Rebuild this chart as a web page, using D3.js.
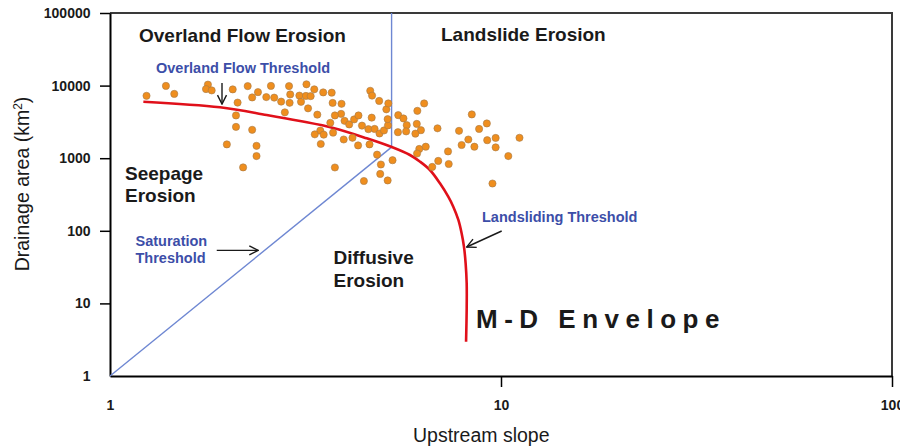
<!DOCTYPE html>
<html>
<head>
<meta charset="utf-8">
<script src="https://cdn.jsdelivr.net/npm/d3@7"></script>
<style>
body { margin: 0; background: #fff; }
text { font-family: Arial, "Liberation Sans", sans-serif; }
</style>
</head>
<body>
<div class="canvas"></div>
<script>
// channel heads: upstream slope vs drainage area (km2)
const pointSlope = [
    1.24, 1.39, 1.46, 1.78, 1.76, 1.82, 2.06, 2.25, 2.39, 2.31,
    2.12, 2.10, 2.10, 2.31, 1.99, 2.37, 2.37, 2.19, 2.51, 2.58,
    2.63, 2.74, 2.87, 2.89, 2.88, 2.80, 3.05, 3.08, 3.18, 3.17,
    3.26, 3.33, 3.21, 3.51, 3.69, 3.71, 3.39, 3.91, 3.90, 3.76,
    3.66, 3.98, 4.09, 4.21, 4.32, 4.41, 4.67, 4.58, 4.75, 4.89,
    5.02, 5.14, 5.13, 5.09, 5.15, 4.63, 4.68, 4.88, 3.45, 3.34,
    3.52, 3.72, 3.46, 3.96, 4.17, 4.31, 4.61, 3.76, 4.82, 4.93,
    4.91, 5.28, 5.13, 4.46, 5.46, 5.63, 5.74, 5.72, 5.45, 6.11,
    6.36, 6.09, 6.24, 6.04, 6.18, 6.10, 6.42, 6.88, 6.91, 6.67,
    7.32, 7.35, 7.81, 7.93, 8.25, 8.42, 8.79, 8.55, 9.20, 9.22,
    9.69, 9.69, 10.44, 11.15, 9.51
]
const pointArea = [
    7230, 9910, 7690, 10320, 8950, 8590, 8870, 9840, 8130, 6870,
    5830, 3880, 2700, 2460, 1550, 1480, 1070, 747, 6940, 9910,
    6830, 6020, 9840, 7560, 5790, 4280, 7280, 5980, 10420, 7210,
    7160, 8890, 4860, 8060, 8000, 5770, 3980, 5610, 4080, 3880,
    3070, 3270, 2920, 3420, 3880, 2810, 3620, 2510, 2530, 2190,
    2410, 2830, 3450, 4710, 5680, 8480, 7280, 6150, 2400, 2130,
    2110, 2250, 1570, 1810, 1910, 1500, 1550, 745, 1120, 819,
    607, 938, 494, 485, 3920, 3530, 2850, 2340, 2280, 4490,
    5680, 2970, 2430, 2180, 1340, 1160, 1440, 2580, 918, 759,
    1240, 832, 2380, 1520, 1810, 4010, 2530, 1440, 3010, 1770,
    1900, 1410, 1070, 1910, 448
]

// M-D envelope (red curve)
const envelopeSlope = [1.217, 1.911, 2.516, 3.062, 3.725, 4.535, 5.254, 5.85, 6.21, 6.58, 6.98, 7.33, 7.55, 7.78, 7.93, 8.04, 8.12, 8.17, 8.17, 8.14]
const envelopeArea = [6000, 5020, 3940, 3250, 2606, 1880, 1426, 1107, 895, 688, 451, 295, 215, 141, 92.4, 60.4, 35.7, 18.9, 8.11, 2.97]

// threshold lines (blue), meeting at the break point
const breakSlope = 5.25
const breakArea = 1420
const saturationSlope = [1, breakSlope]
const saturationArea = [1, breakArea]
const overlandSlope = [breakSlope, breakSlope]
const overlandArea = [breakArea, 100000]

// annotation arrows [from, to] as [slope, area]
const overlandArrow = [[1.934, 10820], [1.934, 5560]]
const saturationArrow = [[1.875, 53.8], [2.395, 53.8]]
const landslideArrow = [[10.04, 99.4], [8.17, 59.8]]

const xTicks = [1, 10, 100]
const yTicks = [1, 10, 100, 1000, 10000, 100000]

const width = 900
const height = 448
const svg = d3.select('.canvas').append('svg').attr('width', width).attr('height', height)

const margins = { top: 13, right: 8, bottom: 72, left: 110 }
const gWidth = width - margins.left - margins.right
const gHeight = height - margins.top - margins.bottom

const graph = svg.append('g').attr('transform', `translate(${margins.left}, ${margins.top})`)

const x = d3.scaleLog().domain([1, 100]).range([0, gWidth])
const y = d3.scaleLog().domain([1, 100000]).range([gHeight, 0])

const black = '#1a1a1a'
const blueText = '#3c4ea8'
const blueLine = '#6e87d2'

// frame on top and right
graph.append('path')
    .attr('d', `M0,0H${gWidth}V${gHeight}`)
    .attr('fill', 'none')
    .attr('stroke', '#3a3a3a')
    .attr('stroke-width', 2)

// axes
const xAxisGroup = graph.append('g').attr('transform', `translate(0, ${gHeight})`)
const yAxisGroup = graph.append('g')

const xAxis = d3.axisBottom(x).tickValues(xTicks).tickFormat(d3.format('d'))
    .tickSize(11).tickPadding(13).tickSizeOuter(0)
const yAxis = d3.axisLeft(y).tickValues(yTicks).tickFormat(d3.format('d'))
    .tickSize(10).tickPadding(9.5).tickSizeOuter(0)

xAxisGroup.call(xAxis)
yAxisGroup.call(yAxis)

;[xAxisGroup, yAxisGroup].forEach(g => {
    g.select('.domain').attr('stroke', '#000').attr('stroke-width', 2)
    g.selectAll('.tick line').attr('stroke', '#000').attr('stroke-width', 1.5)
    g.selectAll('.tick').filter(d => d === 1).select('line').remove()
    g.selectAll('.tick text')
        .attr('fill', black)
        .style('font-size', '14px')
        .style('font-weight', 'bold')
})

// threshold lines
const line = d3.line().x(d => x(d[0])).y(d => y(d[1]))

graph.append('path')
    .datum(d3.zip(saturationSlope, saturationArea))
    .attr('d', line)
    .attr('fill', 'none')
    .attr('stroke', blueLine)
    .attr('stroke-width', 1.4)

graph.append('path')
    .datum(d3.zip(overlandSlope, overlandArea))
    .attr('d', line)
    .attr('fill', 'none')
    .attr('stroke', blueLine)
    .attr('stroke-width', 1.4)

// envelope
graph.append('path')
    .datum(d3.zip(envelopeSlope, envelopeArea))
    .attr('d', line.curve(d3.curveCatmullRom.alpha(0.5)))
    .attr('fill', 'none')
    .attr('stroke', '#e0101a')
    .attr('stroke-width', 2.6)

line.curve(d3.curveLinear)

// points
graph.selectAll('circle')
    .data(d3.zip(pointSlope, pointArea))
    .enter()
    .append('circle')
    .attr('cx', d => x(d[0]))
    .attr('cy', d => y(d[1]))
    .attr('r', 3.6)
    .attr('fill', '#ef8e1e')
    .attr('stroke', '#a57a4a')
    .attr('stroke-width', 0.6)

// arrows
svg.append('defs').append('marker')
    .attr('id', 'head')
    .attr('viewBox', '0 0 12 12')
    .attr('refX', 11)
    .attr('refY', 6)
    .attr('markerWidth', 12)
    .attr('markerHeight', 12)
    .attr('markerUnits', 'userSpaceOnUse')
    .attr('orient', 'auto')
    .append('path')
    .attr('d', 'M2,1.5L11,6L2,10.5')
    .attr('fill', 'none')
    .attr('stroke', black)
    .attr('stroke-width', 1.4)

;[overlandArrow, saturationArrow, landslideArrow].forEach(a => {
    graph.append('path')
        .datum(a)
        .attr('d', line)
        .attr('fill', 'none')
        .attr('stroke', black)
        .attr('stroke-width', 1.4)
        .attr('marker-end', 'url(#head)')
})

// region and threshold labels
const addText = (lines, px, py, size, color, lineGap) => {
    const t = svg.append('text')
        .attr('x', px)
        .attr('y', py)
        .attr('fill', color)
        .style('font-size', size + 'px')
        .style('font-weight', 'bold')
    lines.forEach((s, i) => {
        t.append('tspan').attr('x', px).attr('y', py + i * lineGap).text(s)
    })
    return t
}

addText(['Overland Flow Erosion'], 139, 41.5, 19, black, 0)
addText(['Landslide Erosion'], 441, 41, 19, black, 0)
addText(['Overland Flow Threshold'], 156, 73.3, 14.5, blueText, 0)
addText(['Seepage', 'Erosion'], 125, 180, 19, black, 21.7)
addText(['Saturation', 'Threshold'], 135.5, 246, 14.5, blueText, 16.7)
addText(['Diffusive', 'Erosion'], 333.5, 264, 19, black, 22.7)
addText(['Landsliding Threshold'], 482, 222, 14.5, blueText, 0)
addText(['M-D Envelope'], 476, 327.7, 26, black, 0).style('letter-spacing', '6.5px')

// axis titles
svg.append('text')
    .attr('x', 413)
    .attr('y', 441.5)
    .attr('fill', black)
    .style('font-size', '19.5px')
    .text('Upstream slope')

const yTitle = svg.append('text')
    .attr('transform', 'translate(28.5, 184) rotate(-90)')
    .attr('text-anchor', 'middle')
    .attr('fill', black)
    .style('font-size', '19.5px')
yTitle.append('tspan').text('Drainage area (km')
yTitle.append('tspan').attr('dy', -7).style('font-size', '12px').text('2')
yTitle.append('tspan').attr('dy', 7).text(')')
</script>
</body>
</html>
